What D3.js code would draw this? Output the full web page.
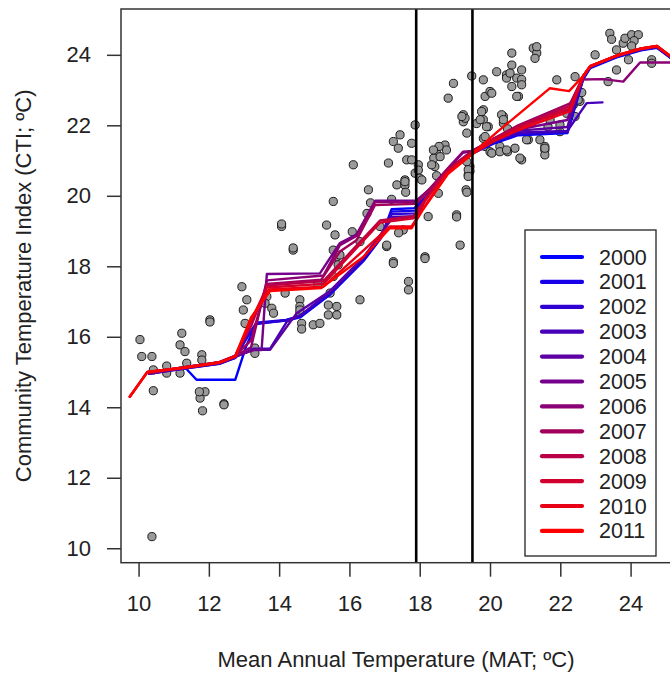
<!DOCTYPE html>
<html><head><meta charset="utf-8">
<script src="https://cdn.jsdelivr.net/npm/d3@7"></script>
<style>body{margin:0;background:#fff}</style>
</head><body><svg id="c" width="670" height="673"></svg>
<script>
const years = ["2000","2001","2002","2003","2004","2005","2006","2007","2008","2009","2010","2011"];
const xTicks = [10,12,14,16,18,20,22,24];
const yTicks = [10,12,14,16,18,20,22,24];
const thresholds = [17.9, 19.5];
const xLabel = "Mean Annual Temperature (MAT; ºC)";
const yLabel = "Community Temperature Index (CTI; ºC)";

const points = [
[10.04,15.92],[10.09,15.44],[10.38,15.44],[10.42,15.06],[10.42,14.47],[10.8,15.17],[10.8,14.97],[11.18,14.97],
[11.23,16.1],[11.18,15.77],[11.32,15.58],[11.37,15.25],[11.8,15.49],[11.8,15.34],[11.75,14.26],[11.89,14.44],
[11.73,14.44],[11.82,13.9],[12.43,14.1],[12.43,14.07],[10.38,10.33],[12.03,16.48],[12.03,16.42],[12.94,17.42],
[13.08,17.05],[12.98,16.76],[13.03,16.38],[13.31,15.68],[13.31,15.53],[13.65,17.14],[13.6,16.95],[13.79,16.81],
[13.84,16.67],[14.17,17.24],[14.59,17.05],[14.59,16.86],[14.59,16.67],[14.64,16.38],[14.64,16.22],[14.97,16.34],
[15.16,16.38],[15.4,16.62],[15.64,16.62],[14.07,19.13],[14.07,19.2],[14.4,18.46],[14.4,18.52],
[15.54,19.84],[15.35,19.17],[15.59,18.89],[15.54,18.46],[15.64,18.27],[15.54,17.71],[15.21,17.52],[15.45,17.24],
[15.68,18.04],[15.73,18.32],[16.08,18.98],[16.3,18.7],[16.87,19.13],[17.06,18.56],[17.06,18.6],[17.25,18.13],[17.25,18.08],
[17.53,19.03],[17.4,18.95],[15.1,17.5],[14.59,16.76],[15.4,16.9],[15.64,16.86],[16.3,17.05],[17.68,17.57],
[17.68,17.33],[18.24,19.41],[18.15,18.27],[18.15,18.22],[19.05,19.46],[19.05,19.4],[19.15,18.6],[16.11,20.88],
[17.11,20.93],[16.54,20.17],[17.35,20.31],[17.58,20.45],[17.58,20.3],[16.6,19.8],[17.87,22.01],[17.44,21.73],
[17.25,21.54],[17.39,21.35],[17.77,21.49],[17.63,21.02],[17.77,21.02],[17.96,20.88],[17.87,20.64],[17.96,20.73],
[18.0,20.5],[17.6,20.1],[18.48,21.21],[18.4,21.07],[18.43,20.83],[18.72,21.44],[18.76,21.3],[18.55,21.4],
[19.32,20.17],[19.34,20.1],[19.43,20.83],[19.43,20.7],[19.38,20.6],[19.81,21.63],[19.24,22.1],[19.62,22.05],
[18.48,20.57],[18.58,21.11],[18.81,22.77],[18.96,23.19],[19.48,23.4],[19.81,23.29],[19.86,22.82],[20.0,22.96],
[19.81,22.44],[19.81,22.16],[19.95,21.96],[20.19,23.52],[20.47,23.43],[20.62,24.05],[20.62,23.71],[20.47,23.34],
[20.76,23.34],[20.9,23.57],[20.9,23.3],[20.9,23.15],[20.62,23.1],[20.81,22.82],[20.38,22.25],[20.38,22.06],
[20.5,21.9],[19.86,21.4],[20.0,21.25],[20.28,21.4],[20.71,21.35],[20.5,21.25],[20.9,21.02],[21.23,24.19],
[21.33,24.05],[21.28,23.9],[21.9,23.29],[22.42,23.38],[21.09,21.59],[21.42,21.59],[21.56,21.4],[21.56,21.3],
[21.56,21.16],[21.65,21.96],[21.99,21.82],[22.42,22.25],[22.56,22.68],[22.99,24.0],[23.41,24.61],[23.46,24.44],
[23.6,24.14],[23.79,24.33],[23.84,24.47],[24.03,24.57],[24.22,24.57],[24.1,24.4],[24.03,24.25],[23.94,23.86],
[23.6,23.57],[24.6,23.86],[24.6,23.76],[23.36,23.24],[19.34,21.78],[19.24,22.3],[19.29,22.2],[20.05,22.91],
[19.86,21.68],[19.9,21.96],[20.33,22.3],[20.38,22.16],[20.05,21.21],[20.28,21.25],[21.04,21.59],[21.56,21.35],
[21.71,22.15],[21.99,22.01],[22.18,22.34],[22.37,22.58],[22.51,22.72],[22.61,22.93],[16.5,19.5],[17.2,19.9],
[18.39,21.3],[18.34,20.88],[18.06,20.45],[17.58,20.4],[18.53,20.07],[19.34,20.97],[19.38,20.74],[19.38,20.55],
[19.2,22.25],[19.76,22.39],[19.72,22.16],[20.57,23.48],[21.33,24.23],[20.85,21.07],[20.47,21.3],[20.76,22.82]
];

const line2000 = [[10.3,15.0],[11.35,15.1],[11.65,14.78],[12.75,14.78],[13.05,15.7],[13.35,16.38],[14.2,16.46],[14.6,16.55],[15.45,17.2],[16.4,18.15],[16.9,18.8],[17.2,19.62],[17.85,19.65],[18.3,20.1],[18.8,20.68],[19.45,21.18],[20.1,21.48],[20.8,21.72],[22.2,21.78],[22.65,23.3],[22.85,23.62],[23.6,23.93],[24.3,24.13],[24.75,24.2],[25.15,23.9]];
const line2001 = [[10.3,14.98],[11.3,15.12],[12.3,15.24],[12.75,15.4],[13.1,16.0],[13.35,16.4],[14.2,16.48],[14.6,16.58],[15.45,17.22],[16.4,18.17],[16.9,18.82],[17.2,19.55],[17.88,19.58],[18.3,20.12],[18.8,20.7],[19.45,21.19],[20.1,21.5],[20.8,21.74],[22.2,21.8],[22.65,23.33],[22.85,23.64],[23.6,23.94],[24.3,24.14],[24.75,24.21],[25.15,23.91]];
const line2002 = [[10.3,14.96],[11.3,15.1],[12.3,15.23],[12.75,15.4],[13.15,16.1],[13.35,16.36],[14.2,16.47],[14.6,16.6],[15.45,17.25],[16.4,18.2],[16.9,18.86],[17.2,19.48],[17.9,19.5],[18.3,20.14],[18.8,20.7],[19.45,21.2],[20.1,21.52],[20.8,21.76],[22.2,21.82],[22.65,23.35],[22.85,23.65],[23.6,23.95],[24.3,24.15],[24.75,24.22],[25.15,23.92]];
const line2003 = [[10.3,14.95],[11.3,15.1],[12.3,15.24],[12.75,15.42],[13.27,15.66],[13.74,15.66],[14.22,16.43],[14.6,16.6],[15.45,17.28],[16.4,18.24],[16.9,18.9],[17.2,19.4],[17.9,19.42],[18.3,20.15],[18.8,20.72],[19.45,21.2],[20.1,21.53],[20.8,21.8],[22.2,21.84],[22.75,22.63],[23.2,22.65]];
const line2004 = [[10.3,14.95],[11.3,15.12],[12.3,15.25],[12.75,15.44],[13.27,15.63],[13.74,15.63],[14.5,16.67],[15.45,17.3],[16.4,18.26],[16.9,18.92],[17.2,19.35],[17.9,19.38],[18.3,20.17],[18.8,20.73],[19.45,21.22],[20.1,21.55],[20.8,21.85],[22.2,21.95],[22.65,23.38],[22.85,23.66],[23.6,23.96],[24.3,24.16],[24.75,24.23],[25.15,23.93]];
const line2005 = [[10.3,14.96],[11.3,15.13],[12.3,15.26],[12.75,15.45],[13.27,15.62],[13.5,15.62],[13.65,17.78],[15.16,17.8],[15.73,18.66],[16.2,18.9],[16.73,19.86],[17.9,19.86],[18.3,20.2],[18.8,20.76],[19.23,21.22],[19.45,21.26],[20.1,21.58],[20.8,21.88],[22.2,22.15],[22.65,23.38],[22.85,23.66],[23.6,23.96],[24.3,24.16],[24.75,24.23],[25.15,23.93]];
const line2006 = [[10.3,14.97],[11.3,15.14],[12.3,15.27],[12.75,15.45],[13.2,15.7],[13.65,17.6],[15.26,17.74],[15.73,18.6],[16.2,18.86],[16.73,19.82],[17.9,19.82],[18.3,20.22],[18.8,20.78],[19.23,21.25],[19.5,21.27],[20.1,21.62],[20.8,21.95],[22.25,22.45],[22.65,23.3],[23.22,23.31],[23.79,23.24],[24.27,23.78],[25.15,23.78]];
const line2007 = [[10.3,14.98],[11.3,15.14],[12.3,15.28],[12.75,15.46],[13.2,15.9],[13.65,17.5],[15.2,17.62],[15.73,18.42],[16.2,18.74],[16.73,19.74],[17.9,19.77],[18.3,20.2],[18.8,20.76],[19.45,21.24],[20.1,21.62],[20.8,22.0],[22.28,22.62],[22.65,23.38],[22.85,23.67],[23.6,23.97],[24.3,24.17],[24.75,24.24],[25.15,23.94]];
const line2008 = [[10.3,14.99],[11.3,15.14],[12.3,15.28],[12.75,15.46],[13.2,16.3],[13.65,17.45],[15.26,17.58],[16.87,19.3],[17.82,19.42],[18.15,19.9],[18.8,20.72],[19.45,21.22],[20.1,21.6],[20.8,21.96],[22.28,22.55],[22.65,23.4],[22.85,23.67],[23.6,23.97],[24.3,24.17],[24.75,24.24],[25.15,23.94]];
const line2009 = [[9.75,14.3],[10.25,15.0],[11.3,15.13],[12.3,15.28],[12.75,15.46],[13.2,16.45],[13.65,17.4],[15.26,17.5],[16.87,19.24],[17.82,19.36],[18.15,19.85],[18.8,20.7],[19.45,21.2],[20.1,21.58],[20.8,21.92],[22.28,22.48],[22.65,23.4],[22.85,23.68],[23.6,23.98],[24.3,24.18],[24.75,24.25],[25.15,23.95]];
const line2010 = [[9.75,14.3],[10.25,15.0],[11.3,15.12],[12.3,15.27],[12.75,15.45],[13.2,16.5],[13.7,17.34],[15.26,17.42],[17.15,19.13],[17.77,19.13],[18.1,19.65],[18.8,20.64],[19.45,21.15],[20.1,21.55],[20.8,21.86],[22.28,22.4],[22.65,23.4],[22.85,23.68],[23.6,23.98],[24.3,24.18],[24.75,24.25],[25.15,23.95]];
const line2011 = [[9.75,14.3],[10.25,15.0],[11.3,15.12],[12.3,15.27],[12.75,15.44],[13.2,16.55],[13.74,17.3],[15.2,17.38],[16.4,18.27],[17.15,19.08],[17.77,19.08],[18.1,19.62],[18.8,20.62],[19.45,21.15],[20.19,21.8],[21.7,23.05],[22.25,22.97],[22.65,23.4],[22.85,23.68],[23.6,23.98],[24.3,24.18],[24.75,24.25],[25.15,23.95]];

const seriesLines = [line2000,line2001,line2002,line2003,line2004,line2005,line2006,line2007,line2008,line2009,line2010,line2011];

const L = 121, R = 671, T = 9, B = 562.7;
const svg = d3.select("#c");
const x = d3.scaleLinear().domain([9.5, 25.15]).range([L, R]);
const y = d3.scaleLinear().domain([9.59, 25.3]).range([B, T]);
const color = i => d3.interpolateRgb("#0000ff", "#ff0000")(i / (years.length - 1));
const font = "Liberation Sans, Arial, sans-serif";

svg.append("defs").append("clipPath").attr("id","clip")
  .append("rect").attr("x",L).attr("y",T).attr("width",R-L).attr("height",B-T);

const plot = svg.append("g").attr("clip-path","url(#clip)");

plot.selectAll("circle.pt").data(points).join("circle")
  .attr("class","pt")
  .attr("cx", d => x(d[0])).attr("cy", d => y(d[1])).attr("r", 4.1)
  .attr("fill", "#9a9a9a").attr("stroke", "#1a1a1a").attr("stroke-width", 1);

const line = d3.line().x(d => x(d[0])).y(d => y(d[1]));
seriesLines.forEach((s, i) => {
  plot.append("path").attr("d", line(s)).attr("fill","none")
    .attr("stroke", color(i)).attr("stroke-width", 2.4)
    .attr("stroke-linejoin","round").attr("stroke-linecap","round");
});

plot.selectAll("line.th").data(thresholds).join("line")
  .attr("class","th")
  .attr("x1", d => x(d)).attr("x2", d => x(d)).attr("y1", T).attr("y2", B)
  .attr("stroke", "#000").attr("stroke-width", 2.6);

svg.append("rect").attr("x",L).attr("y",T).attr("width",R-L).attr("height",B-T)
  .attr("fill","none").attr("stroke","#333").attr("stroke-width",1.5);

const xAxis = d3.axisBottom(x).tickValues(xTicks).tickSize(14).tickPadding(19).tickFormat(d3.format("d"));
const gx = svg.append("g").attr("transform", `translate(0,${B})`).call(xAxis);
gx.select(".domain").remove();
gx.selectAll(".tick line").attr("stroke","#333").attr("stroke-width",1.5);
gx.selectAll(".tick text").attr("font-family",font).attr("font-size",22).attr("fill","#222");

const yAxis = d3.axisLeft(y).tickValues(yTicks).tickSize(14).tickPadding(16).tickFormat(d3.format("d"));
const gy = svg.append("g").attr("transform", `translate(${L},0)`).call(yAxis);
gy.select(".domain").remove();
gy.selectAll(".tick line").attr("stroke","#333").attr("stroke-width",1.5);
gy.selectAll(".tick text").attr("font-family",font).attr("font-size",22).attr("fill","#222");

svg.append("text").attr("x", (L+R)/2).attr("y", 667).attr("text-anchor","middle")
  .attr("font-family",font).attr("font-size",22).attr("fill","#222").text(xLabel);
svg.append("text").attr("transform", `translate(31,${(T+B)/2}) rotate(-90)`).attr("text-anchor","middle")
  .attr("font-family",font).attr("font-size",22).attr("fill","#222").text(yLabel);

const lg = svg.append("g");
lg.append("rect").attr("x",525).attr("y",230).attr("width",131).attr("height",326)
  .attr("fill","#fff").attr("stroke","#222").attr("stroke-width",1.3);
years.forEach((yr, i) => {
  const cy = 257 + i * 24.9;
  lg.append("line").attr("x1",542).attr("x2",582).attr("y1",cy).attr("y2",cy)
    .attr("stroke", color(i)).attr("stroke-width",4.2).attr("stroke-linecap","round");
  lg.append("text").attr("x",599).attr("y",cy+7.5).attr("font-family",font).attr("font-size",21.5)
    .attr("fill","#222").text(yr);
});
</script></body></html>
